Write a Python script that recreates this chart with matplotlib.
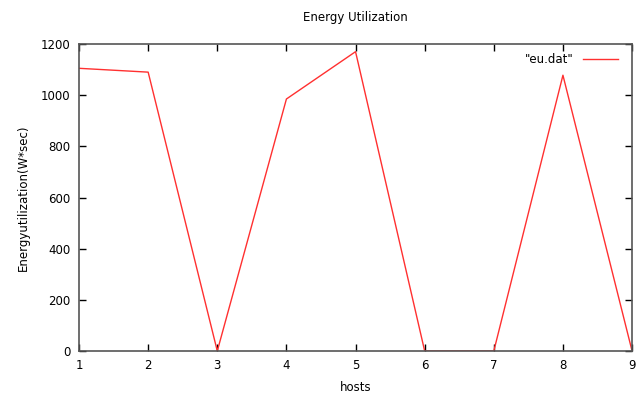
import matplotlib
matplotlib.use("Agg")
import matplotlib.pyplot as plt

hosts = [1, 2, 3, 4, 5, 6, 7, 8, 9]
energy = [1105, 1090, 0, 985, 1170, 0, 0, 1078, 0]
xticks = [1, 2, 3, 4, 5, 6, 7, 8, 9]
yticks = [0, 200, 400, 600, 800, 1000, 1200]

plt.rcParams['font.family'] = ['DejaVu Sans']
fig = plt.figure(figsize=(6.43, 3.96), dpi=100)
ax = fig.add_axes([0.1229, 0.1136, 0.8601, 0.7753])

ax.plot(hosts, energy, color='#ff3030', linewidth=1.0)

ax.set_xlim(1, 9)
ax.set_ylim(0, 1200)
ax.set_xticks(xticks)
ax.set_yticks(yticks)
ax.tick_params(direction='in', top=True, right=True, length=5, width=1,
               labelsize=8.5, pad=6, color='black')
for s in ax.spines.values():
    s.set_color('#555555')
    s.set_linewidth(1.2)

ax.set_xlabel('hosts', fontsize=8.5, labelpad=6)
ax.set_ylabel('Energyutilization(W*sec)', fontsize=8.5, labelpad=8)
fig.text(0.552, 0.955, 'Energy Utilization', ha='center', va='center', fontsize=8.5)

# gnuplot-style key: label left of the sample line
ax.plot([0.912, 0.975], [0.95, 0.95], transform=ax.transAxes, color='#ff3030', linewidth=1.0)
ax.text(0.895, 0.95, '"eu.dat"', transform=ax.transAxes, ha='right', va='center', fontsize=8.5)

fig.savefig('out.png', dpi=100)
